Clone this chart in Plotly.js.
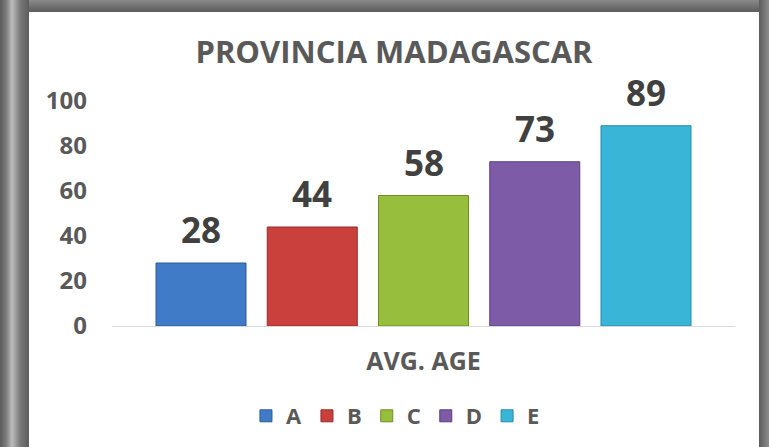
<!DOCTYPE html>
<html><head><meta charset="utf-8">
<script src="https://cdn.plot.ly/plotly-3.0.1.min.js"></script>
<style>
html,body{margin:0;padding:0;width:769px;height:447px;overflow:hidden;background:#5e5e5e;}
#frameL{position:absolute;left:0;top:0;width:29px;height:447px;background:linear-gradient(to right,#5a5a5a 0px,#7a7a7a 6px,#bdbdbd 12px,#7a7a7a 20px,#5c5c5c 29px);}
#frameT{position:absolute;left:0;top:0;width:769px;height:12px;background:linear-gradient(to bottom,#8a8a8a,#5c5c5c);}
#frameR{position:absolute;left:759px;top:0;width:10px;height:447px;background:linear-gradient(to right,#5c5c5c,#8c8c8c);}
#chart{position:absolute;left:29px;top:12px;width:730px;height:435px;background:#fff;}
</style></head>
<body>
<div id="frameT"></div><div id="frameL"></div><div id="frameR"></div>
<div id="chart"></div>
<script>
const categoryLabel = "AVG. AGE";
const seriesNames = ["A", "B", "C", "D", "E"];
const seriesValues = [28, 44, 58, 73, 89];
const seriesColors = ["#3f7bc6", "#c9403d", "#97be3c", "#7e5ba7", "#39b5d7"];
const seriesEdges = ["#2a5a99", "#952b29", "#6e8f26", "#5a3f7e", "#2689a6"];
const yTicks = [0, 20, 40, 60, 80, 100];

const traces = seriesNames.map((n, i) => ({
  type: "bar",
  name: n,
  x: [n],
  y: [seriesValues[i]],
  marker: {color: seriesColors[i], line: {color: seriesEdges[i], width: 1}},
  hoverinfo: "skip"
}));

const annotations = seriesNames.map((n, i) => ({
  x: n, y: seriesValues[i], xref: "x", yref: "y",
  text: String(seriesValues[i]), showarrow: false,
  xanchor: "center", yanchor: "bottom", yshift: 8,
  font: {family: "Open Sans", size: 35, color: "#404040", weight: "bold"}
}));

const layout = {
  width: 730, height: 435,
  margin: {l: 83, r: 24, t: 89, b: 121, autoexpand: false},
  paper_bgcolor: "#ffffff", plot_bgcolor: "#ffffff",
  barmode: "overlay", bargap: 0.191,
  title: {text: "<b>PROVINCIA MADAGASCAR</b>", font: {family: "Open Sans", size: 31, color: "#595959"},
          x: 0.5, xref: "container", xanchor: "center", y: 0.908, yref: "container", yanchor: "middle", automargin: false},
  xaxis: {type: "category", range: [-0.8, 4.8], showgrid: false, showline: true, linecolor: "#d9d9d9", linewidth: 1,
          ticks: "", showticklabels: false, automargin: false,
          title: {text: "<b>" + categoryLabel + "</b>", standoff: 26, font: {family: "Open Sans", size: 25, color: "#595959"}}},
  yaxis: {range: [0, 100], tickvals: yTicks, showgrid: false, zeroline: false, showline: false, ticks: "", automargin: false,
          tickfont: {family: "Open Sans", size: 24, color: "#595959", weight: "bold"}, ticklabelstandoff: 24},
  annotations: annotations,
  showlegend: true,
  legend: {orientation: "h", x: 0.455, xref: "paper", xanchor: "center", y: -0.40, yanchor: "middle",
           font: {family: "Open Sans", size: 22, color: "#595959", weight: "bold"},
           itemwidth: 30, tracegroupgap: 0}
};
Plotly.newPlot("chart", traces, layout, {displayModeBar: false, staticPlot: true});
</script>
</body></html>
